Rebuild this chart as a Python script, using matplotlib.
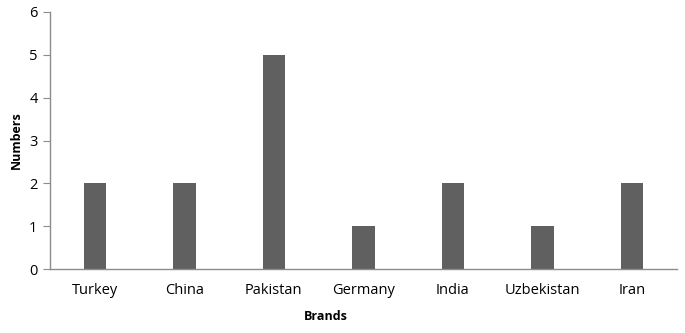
import matplotlib.pyplot as plt

countries = ["Turkey", "China", "Pakistan", "Germany", "India", "Uzbekistan", "Iran"]
numbers = [2, 2, 5, 1, 2, 1, 2]

plt.rcParams['font.family'] = ['Open Sans', 'DejaVu Sans']

fig = plt.figure(figsize=(6.85, 3.33), dpi=100)
ax = fig.add_axes([0.073, 0.192, 0.915, 0.772])

x = range(len(countries))
ax.bar(x, numbers, width=0.25, color="#606060")

ax.set_xlim(-0.5, len(countries) - 0.5)
ax.set_ylim(0, 6)
ax.set_yticks(range(0, 7))
ax.set_xticks(list(x))
ax.set_xticklabels(countries)

for s in ["top", "right"]:
    ax.spines[s].set_visible(False)
for s in ["left", "bottom"]:
    ax.spines[s].set_color("#8c8c8c")
    ax.spines[s].set_linewidth(1.0)

ax.tick_params(axis="y", length=5, color="#8c8c8c", labelsize=10.5, pad=4)
ax.tick_params(axis="x", length=0, labelsize=10.5, pad=10)

ax.set_ylabel("Numbers", fontsize=9, fontweight="bold")
ax.set_xlabel("Brands", fontsize=9, fontweight="bold")
ax.yaxis.set_label_coords(-0.043, 0.5)
ax.xaxis.set_label_coords(0.44, -0.16)

fig.savefig("out.png", dpi=100)
